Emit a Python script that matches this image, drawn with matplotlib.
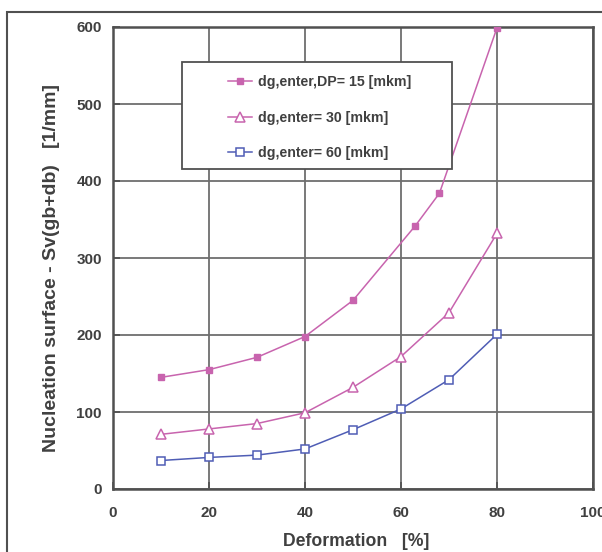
import matplotlib
matplotlib.use("Agg")
import matplotlib.pyplot as plt
from matplotlib.patches import Rectangle

plt.rcParams['font.family'] = ['Liberation Sans', 'DejaVu Sans']

# Data
x15 = [10, 20, 30, 40, 50, 63, 68, 80]
y15 = [145, 155, 171, 198, 245, 342, 384, 599]
x30 = [10, 20, 30, 40, 50, 60, 70, 80]
y30 = [71, 78, 85, 99, 132, 172, 229, 332]
x60 = [10, 20, 30, 40, 50, 60, 70, 80]
y60 = [37, 41, 44, 52, 77, 104, 142, 201]
labels = ["dg,enter,DP= 15 [mkm]", "dg,enter= 30 [mkm]", "dg,enter= 60 [mkm]"]
xticks = [0, 20, 40, 60, 80, 100]
yticks = [0, 100, 200, 300, 400, 500, 600]

W, H = 602, 552
fig = plt.figure(figsize=(W/100, H/100), dpi=100)
ax = fig.add_axes([113/W, 1-489/H, (593-113)/W, (489-27)/H])

pink = '#C864AE'
blue = '#4F5DB5'
txt = '#404040'
gridc = '#6E6E6E'

l1, = ax.plot(x15, y15, color=pink, lw=1.1, marker='s', ms=5, mfc=pink, mec=pink, zorder=3)
l2, = ax.plot(x30, y30, color=pink, lw=1.1, marker='^', ms=7, mfc='white', mec=pink, mew=1.1, zorder=3)
l3, = ax.plot(x60, y60, color=blue, lw=1.1, marker='s', ms=5.5, mfc='white', mec=blue, mew=1.1, zorder=3)

ax.set_xlim(0, 100)
ax.set_ylim(0, 600)
ax.set_xticks(xticks)
ax.set_yticks(yticks)
ax.grid(True, color=gridc, lw=1.3, zorder=1)
ax.set_axisbelow(True)
for s in ax.spines.values():
    s.set_color('#505050')
    s.set_linewidth(1.8)
ax.tick_params(direction='in', length=5, width=1.2, color='#505050',
               labelsize=11, labelcolor=txt)
ax.tick_params(axis='x', pad=12)
ax.tick_params(axis='y', pad=8)
for t in ax.get_xticklabels() + ax.get_yticklabels():
    t.set_fontweight('bold')

ax.set_xlabel("Deformation   [%]", fontsize=12.7, fontweight='bold', color=txt)
ax.xaxis.set_label_coords((356-113)/480, (489-541)/462)
ax.xaxis.label.set_va('center')
ax.set_ylabel("Nucleation surface - Sv(gb+db)   [1/mm]", fontsize=14, fontweight='bold',
              color=txt)
ax.yaxis.set_label_coords((52-113)/480, (489-268)/462)
ax.yaxis.label.set_va('center')

# outer chart frame
fig.patches.append(Rectangle((7/W, -0.1), 1.2, 1.1 - 12/H, transform=fig.transFigure,
                             fill=False, ec='#505050', lw=1.5, zorder=0))

# legend box
fig.patches.append(Rectangle((182/W, 1-169/H), (452-182)/W, (169-62)/H, transform=fig.transFigure,
                             facecolor='white', ec='#505050', lw=1.3, zorder=5))
leg = fig.legend([l1, l2, l3], labels, loc='upper left', bbox_to_anchor=(228/W, 1-75/H),
                 frameon=False, borderpad=0, borderaxespad=0, handlelength=1.7,
                 handletextpad=0.42, labelspacing=1.52, prop={'weight': 'bold', 'size': 10.2})
leg.set_zorder(6)
for t in leg.get_texts():
    t.set_color(txt)
fig.patches.sort(key=lambda p: p.get_zorder())

fig.savefig('out.png', dpi=100)
